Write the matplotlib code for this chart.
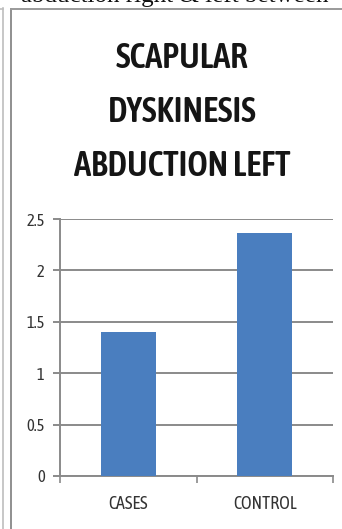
import matplotlib
matplotlib.use("Agg")
import matplotlib.pyplot as plt
from matplotlib.lines import Line2D

categories = ["CASES", "CONTROL"]
values = [1.4, 2.36]
yticks = [0, 0.5, 1, 1.5, 2, 2.5]
ytick_labels = ["0", "0.5", "1", "1.5", "2", "2.5"]
title_lines = ["SCAPULAR", "DYSKINESIS", "ABDUCTION LEFT"]
header_text = "abduction right & left between"

W, H = 342, 529
fig = plt.figure(figsize=(W / 100, H / 100), dpi=100)
fig.patch.set_facecolor("white")

COND = "Asap Condensed"


def fx(px):
    return px / W


def fy(py):
    return 1 - py / H


# page text running into the top edge
fig.text(fx(175), fy(2), header_text, family="Liberation Serif", fontsize=18,
         ha="center", va="baseline", color="#111111")

# page borders
fig.add_artist(Line2D([fx(2.5), fx(2.5)], [0, fy(8)], transform=fig.transFigure,
                      color="#bdbdbd", lw=1.2))
fig.add_artist(Line2D([fx(10.5), fx(10.5)], [0, fy(8.5)], transform=fig.transFigure,
                      color="#8f8f8f", lw=1.4))
fig.add_artist(Line2D([fx(10.5), 1], [fy(8.5), fy(8.5)], transform=fig.transFigure,
                      color="#9a9a9a", lw=1.4))
fig.add_artist(Line2D([0, fx(3)], [fy(8.5), fy(8.5)], transform=fig.transFigure,
                      color="#bdbdbd", lw=1.2))

# chart title
for i, line in enumerate(title_lines):
    fig.text(fx(182), fy(58 + 54 * i), line, family=COND,
             fontweight=600, fontsize=25, ha="center", va="center", color="#151515")

ax = fig.add_axes([fx(60), 1 - 476 / H, (333 - 60) / W, (476 - 219) / H])
x = range(len(categories))
ax.bar(x, values, width=0.4, color="#4a7ebf", zorder=3)
ax.set_xlim(-0.5, 1.5)
ax.set_ylim(0, 2.5)
ax.set_yticks(yticks)
ax.set_yticklabels(ytick_labels, family=COND, fontsize=12, color="#333333")
ax.yaxis.grid(True, color="#8a8a8a", lw=1.4, zorder=1)
ax.set_xticks([-0.5, 0.5, 1.5])
ax.set_xticklabels([])
ax.set_xticks(list(x), minor=True)
ax.set_xticklabels(categories, minor=True, family=COND, fontsize=13,
                   color="#333333")
ax.tick_params(axis="x", which="minor", length=0, pad=14)
ax.tick_params(axis="x", which="major", length=5, color="#8a8a8a", width=1.2, direction="out")
ax.tick_params(axis="y", length=5, color="#8a8a8a", width=1.4, pad=6)
for s in ["top", "right"]:
    ax.spines[s].set_visible(False)
ax.spines["left"].set_color("#8a8a8a")
ax.spines["bottom"].set_color("#8a8a8a")
ax.spines["left"].set_linewidth(1.4)
ax.spines["bottom"].set_linewidth(1.4)

fig.savefig("out.png", dpi=100, facecolor="white")
